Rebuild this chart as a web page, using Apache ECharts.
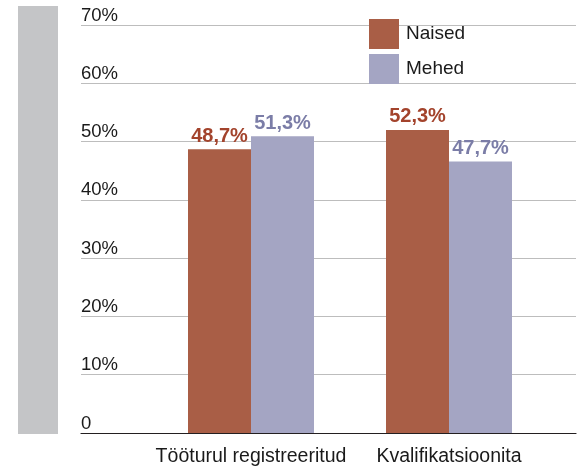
<!DOCTYPE html>
<html>
<head>
<meta charset="utf-8">
<script src="https://cdn.jsdelivr.net/npm/echarts@6/dist/echarts.min.js"></script>
<style>
  html, body { margin: 0; padding: 0; background: #fff; }
  #chart { width: 581px; height: 472px; }
</style>
</head>
<body>
<div id="chart"></div>
<script>
// data
const categories = ['Tööturul registreeritud', 'Kvalifikatsioonita'];
const seriesNames = ['Naised', 'Mehed'];
// bar heights as drawn (the printed labels differ slightly from the bars)
const naisedValues = [48.7, 52.0];
const mehedValues = [50.9, 46.6];
const naisedLabels = ['48,7%', '52,3%'];
const mehedLabels = ['51,3%', '47,7%'];
const yTicks = [0, 10, 20, 30, 40, 50, 60, 70];
const yTickLabels = ['0', '10%', '20%', '30%', '40%', '50%', '60%', '70%'];

const FONT = '"Liberation Sans", Arial, sans-serif';
const RED = '#a95e46';
const BLUE = '#a4a5c3';

const chart = echarts.init(document.getElementById('chart'), null, { renderer: 'canvas' });

const valueLabel = (labels, color) => ({
  show: true,
  position: 'top',
  distance: 3,
  fontFamily: FONT,
  fontWeight: 'bold',
  fontSize: 20,
  color: color,
  formatter: (p) => labels[p.dataIndex]
});

chart.setOption({
  animation: false,
  backgroundColor: '#fff',
  graphic: [{
    type: 'rect',
    shape: { x: 18, y: 6, width: 40, height: 428 },
    style: { fill: '#c4c5c7' },
    silent: true
  }],
  legend: {
    orient: 'vertical',
    left: 364,
    top: 14,
    itemWidth: 30,
    itemHeight: 30,
    itemGap: 5,
    icon: 'rect',
    data: seriesNames,
    textStyle: { fontFamily: FONT, fontSize: 19, color: '#1a1a1a', padding: [0, 0, 0, 2] }
  },
  grid: [
    // gridlines + tick labels
    { left: 81, right: 5, top: 25, height: 408 },
    // bars
    { left: 152, width: 396, top: 25, height: 408 }
  ],
  xAxis: [
    {
      gridIndex: 0, type: 'value', min: 0, max: 1,
      axisLine: { show: true, onZero: false, lineStyle: { color: '#231f20', width: 1.2 } },
      axisTick: { show: false }, axisLabel: { show: false }, splitLine: { show: false }
    },
    {
      gridIndex: 1, type: 'category', data: categories,
      axisLine: { show: false }, axisTick: { show: false },
      axisLabel: {
        interval: 0, hideOverlap: false,
        fontFamily: FONT, fontSize: 19.5, color: '#1a1a1a', margin: 14
      }
    }
  ],
  yAxis: [
    {
      gridIndex: 0, type: 'value', min: 0, max: 70, interval: 10,
      axisLine: { show: false }, axisTick: { show: false },
      splitLine: { show: true, lineStyle: { color: '#bdbdbd', width: 1 } },
      axisLabel: {
        inside: true, margin: 0, align: 'left', verticalAlign: 'bottom',
        padding: [0, 0, 0, 0],
        fontFamily: FONT, fontSize: 18.5, color: '#1a1a1a',
        formatter: (v) => yTickLabels[yTicks.indexOf(v)]
      }
    },
    {
      gridIndex: 1, type: 'value', min: 0, max: 70, show: false
    }
  ],
  series: [
    {
      name: seriesNames[0], type: 'bar', xAxisIndex: 1, yAxisIndex: 1,
      data: naisedValues, barWidth: 63, barGap: '0%',
      itemStyle: { color: RED },
      label: valueLabel(naisedLabels, '#a3432c'),
      z: 3
    },
    {
      name: seriesNames[1], type: 'bar', xAxisIndex: 1, yAxisIndex: 1,
      data: mehedValues, barWidth: 63, barGap: '0%',
      itemStyle: { color: BLUE },
      label: valueLabel(mehedLabels, '#7b7da7'),
      z: 3
    }
  ]
});
</script>
</body>
</html>
